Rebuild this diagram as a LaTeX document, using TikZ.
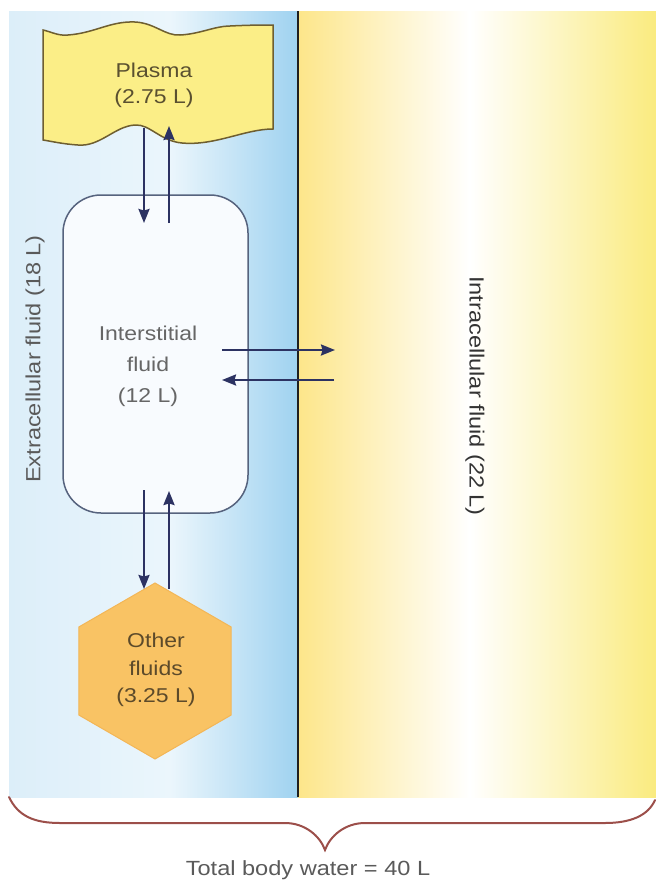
\documentclass[tikz,border=0pt]{standalone}
\usepackage{fontspec}
\setmainfont{Liberation Sans}[FakeStretch=1.15]
\usetikzlibrary{arrows.meta,shapes.geometric}
\definecolor{blueL}{HTML}{DCEEF9}
\definecolor{blueM}{HTML}{EBF6FC}
\definecolor{blueR}{HTML}{9FD2F0}
\definecolor{yelL}{HTML}{FDE68A}
\definecolor{yelR}{HTML}{FAEB7F}
\definecolor{arrowc}{HTML}{2C3262}
\definecolor{plasmaF}{HTML}{FBEE87}
\definecolor{plasmaD}{HTML}{6E5E30}
\definecolor{plasmaT}{HTML}{5A5030}
\definecolor{boxD}{HTML}{56637E}
\definecolor{boxF}{HTML}{F8FBFE}
\definecolor{hexF}{HTML}{F9C364}
\definecolor{hexD}{HTML}{F3B656}
\definecolor{hexT}{HTML}{5C4A2A}
\definecolor{braceC}{HTML}{9C4F4A}
\definecolor{txtG}{HTML}{5A5A5A}
\tikzset{
  lbl/.style={font=\fontsize{20}{28}\selectfont, align=center, inner sep=0pt},
  flow/.style={draw=arrowc, line width=2.2pt, -{Stealth[length=14pt,width=11pt,inset=1.5pt]}},
  interbox/.style={draw=boxD, fill=boxF, line width=1.5pt, rounded corners=38pt, minimum width=185pt, minimum height=318pt, inner sep=0pt},
  hexbox/.style={regular polygon, regular polygon sides=6, shape border rotate=30, minimum size=176pt, inner sep=0pt, fill=hexF, draw=hexD, line width=1pt},
}
\begin{document}
\begin{tikzpicture}[x=1pt,y=-1pt]
\useasboundingbox (0,0) rectangle (656,884);
\fill[white] (0,0) rectangle (656,884);
% panels
\shade[left color=blueL, right color=blueM] (9,11) rectangle (170,797);
\shade[left color=blueM, right color=blueR] (170,11) rectangle (298.5,797);
\shade[left color=yelL, right color=white] (298,11) rectangle (470,797);
\shade[left color=white, right color=yelR] (469.5,11) rectangle (656,797);
\draw[line width=1.5pt, draw=black!88] (298,11) -- (298,797);
% plasma
\draw[fill=plasmaF, draw=plasmaD, line width=1.5pt]
  (43,30) .. controls (52,32) and (58,36) .. (68,35)
  .. controls (95,33) and (110,21) .. (135,22)
  .. controls (155,23) and (165,36) .. (180,35)
  .. controls (200,34) and (215,26) .. (230,26)
  .. controls (250,25) and (265,25) .. (273,25)
  -- (273,129)
  .. controls (245,129) and (215,146) .. (182,143)
  .. controls (160,141) and (150,124) .. (135,125)
  .. controls (115,126) and (100,147) .. (78,145)
  .. controls (62,144) and (50,141) .. (43,140)
  -- cycle;
\node[lbl, text=plasmaT, font=\fontsize{20}{26}\selectfont] (plasma) at (154,85) {Plasma\\(2.75 L)};
% interstitial
\node[interbox] (inter) at (155.5,354) {};
\node[lbl, text=black!60, font=\fontsize{20}{31}\selectfont] (intertext) at (148,366) {Interstitial\\fluid\\(12 L)};
% other fluids
\node[hexbox] (other) at (155,671) {};
\node[lbl, text=hexT, font=\fontsize{20}{27.5}\selectfont] (othertext) at (156,670) {Other\\fluids\\(3.25 L)};
% side labels
\node[lbl, text=txtG, rotate=90, font=\fontsize{20.5}{24}\selectfont] (ecf) at (35,359) {Extracellular fluid (18 L)};
\node[lbl, text=black!80, rotate=-90, font=\fontsize{20.5}{24}\selectfont] (icf) at (475,396) {Intracellular fluid (22 L)};
% arrow end points
\coordinate (pd1) at (144,128); \coordinate (id1) at (144,223);
\coordinate (iu1) at (169,223); \coordinate (pu1) at (169,126);
\coordinate (ir) at (222,350);  \coordinate (cr) at (335,350);
\coordinate (cl) at (334,380);  \coordinate (il) at (222,380);
\coordinate (id2) at (144,490); \coordinate (od) at (144,589);
\coordinate (ou) at (169,589);  \coordinate (iu2) at (169,491);
\draw[flow] (pd1) -- (id1);
\draw[flow] (iu1) -- (pu1);
\draw[flow] (ir) -- (cr);
\draw[flow] (cl) -- (il);
\draw[flow] (id2) -- (od);
\draw[flow] (ou) -- (iu2);
% brace
\draw[draw=braceC, line width=2pt, line cap=round]
  (9,797) .. controls (18,816) and (34,823) .. (60,823) -- (285,823)
  .. controls (305,823) and (320,836) .. (325,850)
  .. controls (330,836) and (345,823) .. (365,823) -- (605,823)
  .. controls (630,823) and (648,816) .. (655,800);
\node[lbl, text=txtG, font=\fontsize{20.5}{24}\selectfont] (total) at (308,870) {Total body water = 40 L};
\end{tikzpicture}
\end{document}
